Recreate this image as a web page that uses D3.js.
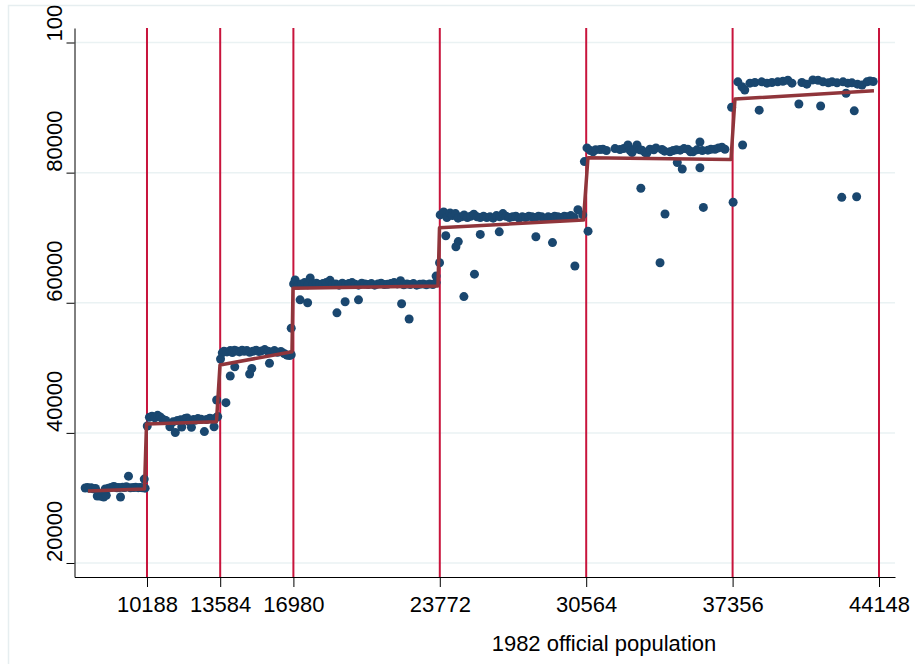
<!DOCTYPE html>
<html>
<head>
<meta charset="utf-8">
<script src="https://cdn.jsdelivr.net/npm/d3@7"></script>
<style>
  body { margin: 0; background: #fff; }
  text { font-family: "Liberation Sans", Arial, sans-serif; }
</style>
</head>
<body>
<div id="chart"></div>
<script>
// cutoffs on the x axis (also the tick labels)
var cutoffs = [10188, 13584, 16980, 23772, 30564, 37356, 44148];
var yTicks = [20000, 40000, 60000, 80000, 100000];
var xTitle = "1982 official population";

// scatter points
var popValues = [
  7320, 7420, 7510, 7600, 7690, 7800, 7880, 7950, 8060, 8180, 8300, 8250, 8400, 8520, 8640, 8700,
  8790, 8890, 8960, 9060, 9150, 9230, 9330, 9420, 9560, 9660, 9780, 9880, 9980, 10060, 10100,
  10200, 10300, 10420, 10550, 10680, 10800, 10900, 11000, 11060, 11250, 11500, 11400, 11600, 11750,
  11800, 11950, 12050, 12150, 12250, 12350, 12450, 12550, 12700, 12850, 12950, 13100, 13200, 13300,
  13400, 13470,
  13420, 13850, 13600, 13680, 13760, 13900, 14050, 14150, 14250, 14350, 14480, 14600, 14700, 14820,
  14950, 15100, 15250, 15380, 15500, 15650, 15800, 15950, 16100, 16250, 16400, 16550, 16680, 16800,
  16880, 14050, 14260, 14950, 15050, 15870, 16880,
  16990, 17060, 17200, 17350, 17500, 17650, 17760, 17900, 18050, 18200, 18350, 18500, 18680, 18800,
  18950, 19100, 19250, 19400, 19550, 19700, 19850, 20000, 20150, 20300, 20450, 20600, 20750, 20900,
  21050, 21200, 21350, 21500, 21650, 21800, 21950, 22100, 22250, 22400, 22550, 22700, 22850, 23000,
  23150, 23300, 23450, 23600, 17290, 17640, 19000, 19380, 20000, 22000, 22350, 23600, 23760,
  23790, 23950, 24100, 24250, 24350, 24500, 24620, 24780, 24900, 25050, 25200, 25350, 25500, 25650,
  25800, 25950, 26100, 26250, 26400, 26550, 26700, 26850, 27000, 27150, 27300, 27450, 27600, 27750,
  27900, 28050, 28200, 28350, 28500, 28650, 28800, 28950, 29100, 29250, 29400, 29550, 29700, 29850,
  30000, 30180, 30400, 24050, 24630, 24520, 25650, 26530, 28230, 29000, 30040, 25380, 24890,
  30600, 30760, 30880, 31000, 31200, 31340, 31500, 31900, 32130, 32300, 32500, 32600, 32690, 32800,
  32920, 33050, 33150, 33300, 33380, 33520, 33700, 33800, 34080, 34200, 34450, 34600, 34750, 34920,
  35100, 35280, 35400, 35520, 35700, 35840, 35950, 36210, 36350, 36540, 36700, 36860, 37000,
  30480, 30650, 33100, 34220, 33990, 34790, 35020, 35840, 36000, 37380, 37310,
  37600, 37790, 37920, 38160, 38390, 38710, 38950, 39180, 39450, 39690, 39920, 40110, 40570, 40800,
  41080, 41320, 41550, 41800, 41970, 42200, 42480, 42700, 42890, 43150, 43360, 43590, 43730, 43880,
  37820, 38590, 40430, 41440, 42620, 43000, 42420, 43110
];
var incomeValues = [
  31530, 31600, 31480, 31550, 31400, 31450, 30300, 30350, 30250, 30150, 30400, 31380, 31500, 31600, 31750, 31680,
  31550, 31600, 30150, 31650, 31600, 31720, 33350, 31550, 31600, 31650, 31580, 31600, 31550, 32900, 31500,
  41060, 42400, 42550, 42300, 42700, 42450, 42150, 41950, 41900, 40950, 40050, 41700, 41900, 42000,
  40900, 42200, 42300, 41700, 40850, 42050, 41950, 42200, 42100, 40200, 42050, 42250, 42150, 40950,
  42350, 42500,
  45050, 44640, 51350, 52300, 52550, 52450, 52650, 52350, 52700, 52600, 52450, 52700, 52550, 52650,
  52400, 52550, 52700, 52500, 52600, 52800, 52550, 52450, 52650, 52400, 52500, 52200, 51950, 51900,
  52000, 48750, 50150, 49050, 49900, 50700, 56100,
  62900, 63500, 62700, 62900, 63100, 62750, 63800, 62900, 63000, 62800, 62950, 63100, 63450, 62800,
  62900, 62700, 63000, 62800, 62950, 63100, 62850, 62700, 63000, 62900, 62800, 62950, 62700, 62900,
  63000, 62800, 62850, 62950, 63100, 62900, 63400, 62750, 62900, 62800, 62950, 62700, 62850, 62900,
  62750, 62900, 62800, 63100, 60450, 60000, 58450, 60150, 60450, 59850, 57500, 64100, 66150,
  73500, 73950, 73100, 73800, 73400, 73700, 73000, 73200, 73500, 73100, 73300, 73600, 73200, 73100,
  73300, 73100, 73200, 73000, 73400, 73200, 73700, 73300, 73100, 73200, 73300, 73000, 73200, 73100,
  73300, 73200, 73100, 73300, 73200, 73000, 73200, 73100, 73300, 73200, 73100, 73300, 73200, 73400,
  73100, 74300, 73500, 70300, 69400, 68600, 70500, 70900, 70150, 69250, 65650, 64400, 60950,
  83800, 83400, 83200, 83500, 83550, 83600, 83400, 83700, 83550, 83700, 84250, 83400, 83100, 83600,
  84250, 83500, 83450, 83100, 83000, 83600, 83500, 83800, 83550, 83300, 83200, 83400, 83500, 83450,
  83700, 83600, 83200, 83200, 83500, 84700, 83400, 83450, 83600, 83600, 83800, 83900, 83600,
  81700, 71000, 77600, 73650, 66150, 81550, 80550, 80750, 74650, 75450, 90050,
  93950, 93200, 92700, 93750, 93850, 93950, 93750, 93850, 93950, 94050, 94200, 93750, 93850, 93600,
  94250, 94200, 93950, 93800, 93950, 93800, 93950, 93750, 93800, 93600, 93450, 93950, 94100, 94000,
  84250, 89600, 90550, 90250, 92200, 89500, 76200, 76300
];

// fitted line, piecewise linear with jumps at the cutoffs
var fitPop = [7451, 10072, 10165, 13412, 13574, 16915, 16961, 23688, 23758, 30437, 30646, 37280, 37466, 43914];
var fitIncome = [31066, 31374, 41364, 41718, 50433, 52477, 62221, 62575, 71536, 72719, 82295, 82018, 91317, 92593];

var W = 915, H = 664;
var plotL = 74.5, plotR = 895, plotT = 28, plotB = 577;

var svg = d3.select("#chart").append("svg")
  .attr("width", W)
  .attr("height", H);

// graph region clip (the top label runs past it in the original)
svg.append("defs").append("clipPath")
  .attr("id", "region")
  .append("rect")
  .attr("x", 0).attr("y", 5)
  .attr("width", W).attr("height", H);

// outer frame
svg.append("rect")
  .attr("x", 8.5).attr("y", 5.5)
  .attr("width", 930).attr("height", 700)
  .attr("fill", "none")
  .attr("stroke", "#e6eef0")
  .attr("stroke-width", 1.5);

var x = d3.scaleLinear().domain([6825, 44890]).range([plotL, plotR]);
var y = d3.scaleLinear().domain([17848, 102230]).range([plotB, plotT]);

// gridlines
svg.append("g").selectAll("line")
  .data(yTicks)
  .enter().append("line")
  .attr("x1", plotL).attr("x2", plotR)
  .attr("y1", function(d) { return y(d); })
  .attr("y2", function(d) { return y(d); })
  .attr("stroke", "#eaf2f3")
  .attr("stroke-width", 1.5);

// vertical cutoff lines
svg.append("g").selectAll("line")
  .data(cutoffs)
  .enter().append("line")
  .attr("x1", function(d) { return x(d); })
  .attr("x2", function(d) { return x(d); })
  .attr("y1", plotT).attr("y2", plotB)
  .attr("stroke", "#c8143c")
  .attr("stroke-width", 2);

// x axis
var xAxis = svg.append("g")
  .attr("transform", "translate(0," + plotB + ")")
  .call(d3.axisBottom(x).tickValues(cutoffs).tickFormat(d3.format("d"))
    .tickSize(10).tickSizeOuter(0).tickPadding(9.5));
xAxis.select(".domain").attr("stroke", "#000");
xAxis.selectAll(".tick line").attr("stroke", "#000");
xAxis.selectAll("text")
  .attr("font-size", "22px")
  .attr("font-family", "'Liberation Sans', Arial, sans-serif")
  .attr("fill", "#000");

// y axis
var yAxis = svg.append("g")
  .attr("transform", "translate(" + plotL + ",0)")
  .call(d3.axisLeft(y).tickValues(yTicks).tickFormat("").tickSize(8).tickSizeOuter(0));
yAxis.select(".domain").attr("stroke", "#000");
yAxis.selectAll(".tick line").attr("stroke", "#000");

svg.append("g")
  .attr("clip-path", "url(#region)")
  .selectAll("text")
  .data(yTicks)
  .enter().append("text")
  .attr("transform", function(d) { return "translate(62," + (y(d) - 1) + ") rotate(-90)"; })
  .attr("text-anchor", "start")
  .attr("font-size", "22px")
  .attr("fill", "#000")
  .text(function(d) { return d; });

// x axis title
svg.append("text")
  .attr("x", 604).attr("y", 651)
  .attr("text-anchor", "middle")
  .attr("font-size", "22px")
  .attr("fill", "#000")
  .text(xTitle);

// scatter
svg.append("g").selectAll("circle")
  .data(popValues)
  .enter().append("circle")
  .attr("cx", function(d) { return x(d); })
  .attr("cy", function(d, i) { return y(incomeValues[i]); })
  .attr("r", 4.5)
  .attr("fill", "#1a476f");

// fitted line
var fit = fitPop.map(function(d, i) { return [d, fitIncome[i]]; });
svg.append("path")
  .datum(fit)
  .attr("fill", "none")
  .attr("stroke", "#90353b")
  .attr("stroke-width", 3.5)
  .attr("stroke-linejoin", "round")
  .attr("d", d3.line()
    .x(function(d) { return x(d[0]); })
    .y(function(d) { return y(d[1]); }));
</script>
</body>
</html>
